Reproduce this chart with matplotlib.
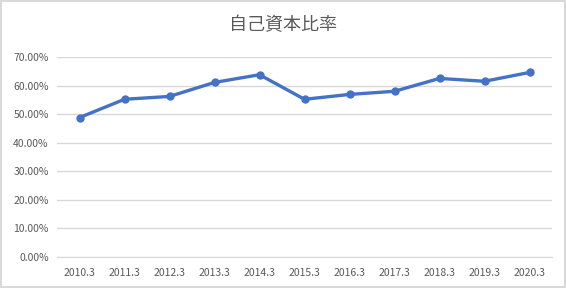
import matplotlib
matplotlib.use("Agg")
import matplotlib.pyplot as plt
from matplotlib.ticker import PercentFormatter

plt.rcParams['font.family'] = ['Noto Sans CJK JP', 'DejaVu Sans']

# data
years = ['2010.3', '2011.3', '2012.3', '2013.3', '2014.3', '2015.3',
         '2016.3', '2017.3', '2018.3', '2019.3', '2020.3']
equity_ratio = [0.488, 0.552, 0.562, 0.611, 0.638, 0.552,
                0.569, 0.580, 0.625, 0.615, 0.646]
title = '自己資本比率'

text_col = '#595959'
grid_col = '#D9D9D9'
line_col = '#4472C4'

fig = plt.figure(figsize=(5.66, 2.88), dpi=100)
fig.patch.set_facecolor('white')
fig.patch.set_edgecolor('#D9D9D9')
fig.patch.set_linewidth(1.5)

ax = fig.add_axes([57 / 566, 1 - 257 / 288, (552 - 57) / 566, 200 / 288])
x = range(len(years))
ax.plot(x, equity_ratio, color=line_col, linewidth=2.4, marker='o',
        markersize=5, zorder=3)

ax.set_xlim(-0.5, len(years) - 0.5)
ax.set_ylim(0, 0.7)
ax.set_yticks([i / 10 for i in range(8)])
ax.yaxis.set_major_formatter(PercentFormatter(1.0, decimals=2))
ax.set_xticks(list(x))
ax.set_xticklabels(years)

ax.grid(axis='y', color=grid_col, linewidth=1)
ax.set_axisbelow(True)
for side in ['top', 'right', 'left']:
    ax.spines[side].set_visible(False)
ax.spines['bottom'].set_color(grid_col)
ax.tick_params(axis='both', length=0, labelsize=7.5, colors=text_col, pad=6)
ax.tick_params(axis='x', pad=8)

fig.text(0.5, 1 - 25 / 288, title, ha='center', va='center',
         fontsize=13, color=text_col)

fig.savefig('out.png', dpi=100)
